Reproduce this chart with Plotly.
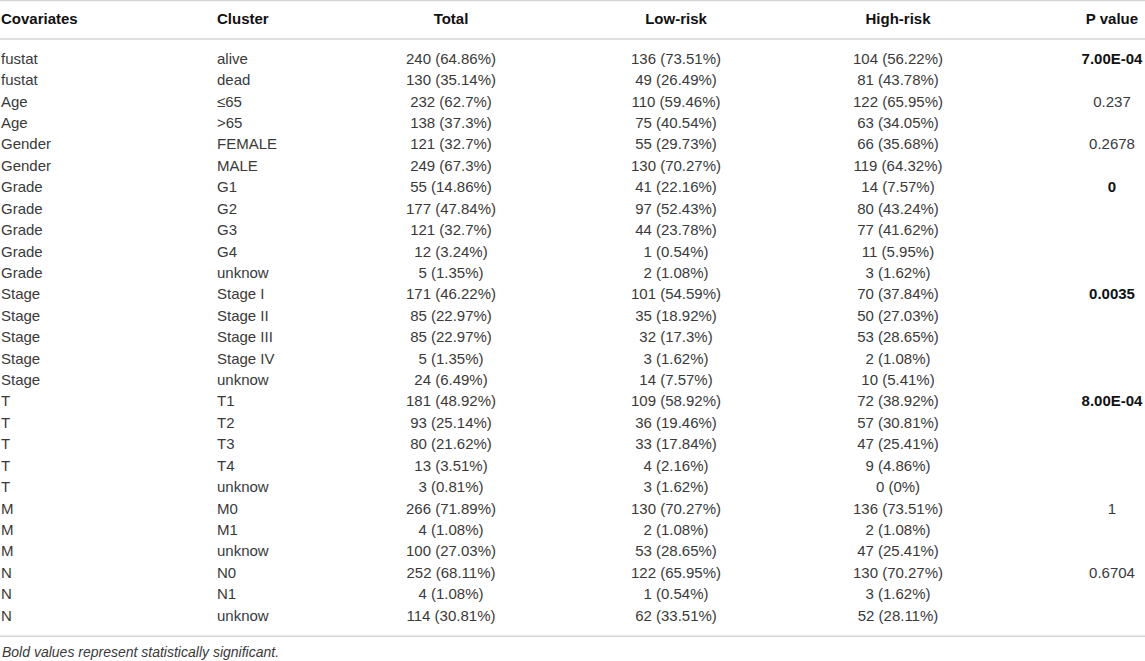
import plotly.graph_objects as go

# DATA
covariates = ["fustat", "fustat", "Age", "Age", "Gender", "Gender",
              "Grade", "Grade", "Grade", "Grade", "Grade",
              "Stage", "Stage", "Stage", "Stage", "Stage",
              "T", "T", "T", "T", "T", "M", "M", "M", "N", "N", "N"]
cluster = ["alive", "dead", "≤65", ">65", "FEMALE", "MALE",
           "G1", "G2", "G3", "G4", "unknow",
           "Stage I", "Stage II", "Stage III", "Stage IV", "unknow",
           "T1", "T2", "T3", "T4", "unknow", "M0", "M1", "unknow",
           "N0", "N1", "unknow"]
total = ["240 (64.86%)", "130 (35.14%)", "232 (62.7%)", "138 (37.3%)",
         "121 (32.7%)", "249 (67.3%)", "55 (14.86%)", "177 (47.84%)",
         "121 (32.7%)", "12 (3.24%)", "5 (1.35%)", "171 (46.22%)",
         "85 (22.97%)", "85 (22.97%)", "5 (1.35%)", "24 (6.49%)",
         "181 (48.92%)", "93 (25.14%)", "80 (21.62%)", "13 (3.51%)",
         "3 (0.81%)", "266 (71.89%)", "4 (1.08%)", "100 (27.03%)",
         "252 (68.11%)", "4 (1.08%)", "114 (30.81%)"]
low_risk = ["136 (73.51%)", "49 (26.49%)", "110 (59.46%)", "75 (40.54%)",
            "55 (29.73%)", "130 (70.27%)", "41 (22.16%)", "97 (52.43%)",
            "44 (23.78%)", "1 (0.54%)", "2 (1.08%)", "101 (54.59%)",
            "35 (18.92%)", "32 (17.3%)", "3 (1.62%)", "14 (7.57%)",
            "109 (58.92%)", "36 (19.46%)", "33 (17.84%)", "4 (2.16%)",
            "3 (1.62%)", "130 (70.27%)", "2 (1.08%)", "53 (28.65%)",
            "122 (65.95%)", "1 (0.54%)", "62 (33.51%)"]
high_risk = ["104 (56.22%)", "81 (43.78%)", "122 (65.95%)", "63 (34.05%)",
             "66 (35.68%)", "119 (64.32%)", "14 (7.57%)", "80 (43.24%)",
             "77 (41.62%)", "11 (5.95%)", "3 (1.62%)", "70 (37.84%)",
             "50 (27.03%)", "53 (28.65%)", "2 (1.08%)", "10 (5.41%)",
             "72 (38.92%)", "57 (30.81%)", "47 (25.41%)", "9 (4.86%)",
             "0 (0%)", "136 (73.51%)", "2 (1.08%)", "47 (25.41%)",
             "130 (70.27%)", "3 (1.62%)", "52 (28.11%)"]
p_values = ["7.00E-04", "", "0.237", "", "0.2678", "",
            "0", "", "", "", "",
            "0.0035", "", "", "", "",
            "8.00E-04", "", "", "", "", "1", "", "", "0.6704", "", ""]
significant = ["7.00E-04", "0", "0.0035", "8.00E-04"]
headers = ["Covariates", "Cluster", "Total", "Low-risk", "High-risk", "P value"]
footnote = "Bold values represent statistically significant."

# LAYOUT (pixel x, row-index y)
col_x = [1, 217, 451, 676, 898, 1112]
col_pos = ["middle right", "middle right", "middle center",
           "middle center", "middle center", "middle center"]
rows = list(range(len(covariates)))
family = "Liberation Sans, Arial, sans-serif"
body_color = "#3a3a3a"

p_text = [f"<b>{p}</b>" if p in significant else p for p in p_values]
p_colors = ["#111111" if p in significant else body_color for p in p_values]

fig = go.Figure()
columns = [covariates, cluster, total, low_risk, high_risk, p_text]
for i, col in enumerate(columns):
    fig.add_trace(go.Scatter(
        x=[col_x[i]] * len(rows), y=rows, text=col, mode="text",
        textposition=col_pos[i],
        textfont=dict(family=family, size=15,
                      color=p_colors if i == 5 else body_color),
        hoverinfo="skip", showlegend=False,
    ))

header_y = -1.867
fig.add_trace(go.Scatter(
    x=col_x, y=[header_y] * len(headers),
    text=[f"<b>{h}</b>" for h in headers], mode="text",
    textposition=col_pos,
    textfont=dict(family=family, size=15, color="#111111"),
    hoverinfo="skip", showlegend=False,
))

fig.add_annotation(x=0, y=27.64, text=f"<i>{footnote}</i>", showarrow=False,
                   xanchor="left", yanchor="middle",
                   font=dict(family=family, size=14, color=body_color))

for yl in [-2.78, -0.98, 26.9]:
    fig.add_shape(type="line", x0=0, x1=1145, y0=yl, y1=yl,
                  line=dict(color="#d4d4d4", width=1.5))

fig.update_layout(
    width=1145, height=661,
    margin=dict(l=0, r=0, t=0, b=0),
    paper_bgcolor="white", plot_bgcolor="white",
    xaxis=dict(range=[0, 1145], visible=False, fixedrange=True),
    yaxis=dict(range=[28.06, -2.801], visible=False, fixedrange=True),
)

fig.write_html("out.html", config={"displayModeBar": False},
               post_script="document.body.style.margin='0';"
                           "document.body.style.overflow='hidden';")
